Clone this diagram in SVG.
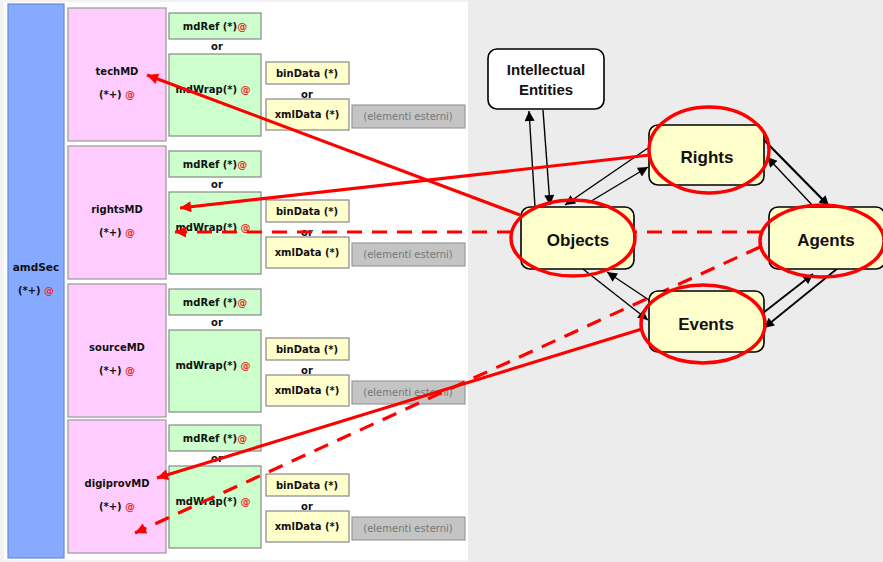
<svg xmlns="http://www.w3.org/2000/svg" width="883" height="562" viewBox="0 0 883 562">
<defs>
<style>
.t{font-family:"DejaVu Sans",Verdana,sans-serif;font-size:10px;font-weight:bold;fill:#111;text-anchor:middle}
.ext{font-family:"DejaVu Sans",Verdana,sans-serif;font-size:10px;fill:#777;text-anchor:middle}
.at{fill:#e8302a}
.pink{fill:#ffccff;stroke:#999;stroke-width:1.2}
.green{fill:#ccffcc;stroke:#888;stroke-width:1.2}
.yel{fill:#ffffcc;stroke:#888;stroke-width:1.2}
.gray{fill:#c4c4c4;stroke:#999;stroke-width:1.2}
.nb{fill:#ffffcc;stroke:#000;stroke-width:1.6}
.nl{font-family:"Liberation Sans",Arial,sans-serif;font-size:17px;font-weight:bold;fill:#111;text-anchor:middle}
.ring{fill:none;stroke:#ff0000;stroke-width:3.5}
.bk{fill:none;stroke:#000;stroke-width:1.4}
.rd{fill:none;stroke:#ff0000;stroke-width:3.2}
.dash{stroke-dasharray:15 10}
</style>
<marker id="ab" viewBox="0 0 10 10" refX="10" refY="5" markerWidth="11" markerHeight="10" markerUnits="userSpaceOnUse" orient="auto"><path d="M0,0 L10,5 L0,10 z" fill="#000"/></marker>
<marker id="ar" viewBox="0 0 10 10" refX="10" refY="5" markerWidth="13" markerHeight="11" markerUnits="userSpaceOnUse" orient="auto"><path d="M0,0 L10,5 L0,10 z" fill="#ff0000"/></marker>
</defs>

<rect x="0" y="0" width="468" height="562" fill="#f2f2f2"/>
<rect x="4" y="2" width="464" height="558" fill="#ffffff"/>
<rect x="468" y="0" width="415" height="562" fill="#ececec"/>

<g id="amdSec">
<rect x="8" y="4" width="56" height="554" fill="#86aaff" stroke="#6a8ad0" stroke-width="1.2"/>
<text class="t" x="36" y="271" style="font-size:10.5px">amdSec</text>
<text class="t" x="36" y="294">(*+) <tspan class="at">@</tspan></text>
</g>

<g id="techMD" transform="translate(0,8)">
<rect class="pink" x="68" y="0" width="98" height="133"/>
<text class="t" x="117" y="67">techMD</text>
<text class="t" x="117" y="90">(*+) <tspan class="at">@</tspan></text>
<rect class="green" x="169" y="5" width="92" height="26"/>
<text class="t" x="215" y="22">mdRef (*)<tspan class="at">@</tspan></text>
<text class="t" x="217" y="42">or</text>
<rect class="green" x="169" y="46" width="92" height="82"/>
<text class="t" x="213" y="85">mdWrap(*) <tspan class="at">@</tspan></text>
<rect class="yel" x="266" y="54" width="83" height="22"/>
<text class="t" x="307" y="69">binData (*)</text>
<text class="t" x="307" y="90">or</text>
<rect class="yel" x="266" y="91" width="83" height="31"/>
<text class="t" x="307" y="110">xmlData (*)</text>
<rect class="gray" x="352" y="97" width="113" height="23"/>
<text class="ext" x="408" y="112">(elementi esterni)</text>
</g>

<g id="rightsMD" transform="translate(0,146)">
<rect class="pink" x="68" y="0" width="98" height="133"/>
<text class="t" x="117" y="67">rightsMD</text>
<text class="t" x="117" y="90">(*+) <tspan class="at">@</tspan></text>
<rect class="green" x="169" y="5" width="92" height="26"/>
<text class="t" x="215" y="22">mdRef (*)<tspan class="at">@</tspan></text>
<text class="t" x="217" y="42">or</text>
<rect class="green" x="169" y="46" width="92" height="82"/>
<text class="t" x="213" y="85">mdWrap(*) <tspan class="at">@</tspan></text>
<rect class="yel" x="266" y="54" width="83" height="22"/>
<text class="t" x="307" y="69">binData (*)</text>
<text class="t" x="307" y="90">or</text>
<rect class="yel" x="266" y="91" width="83" height="31"/>
<text class="t" x="307" y="110">xmlData (*)</text>
<rect class="gray" x="352" y="97" width="113" height="23"/>
<text class="ext" x="408" y="112">(elementi esterni)</text>
</g>

<g id="sourceMD" transform="translate(0,284)">
<rect class="pink" x="68" y="0" width="98" height="133"/>
<text class="t" x="117" y="67">sourceMD</text>
<text class="t" x="117" y="90">(*+) <tspan class="at">@</tspan></text>
<rect class="green" x="169" y="5" width="92" height="26"/>
<text class="t" x="215" y="22">mdRef (*)<tspan class="at">@</tspan></text>
<text class="t" x="217" y="42">or</text>
<rect class="green" x="169" y="46" width="92" height="82"/>
<text class="t" x="213" y="85">mdWrap(*) <tspan class="at">@</tspan></text>
<rect class="yel" x="266" y="54" width="83" height="22"/>
<text class="t" x="307" y="69">binData (*)</text>
<text class="t" x="307" y="90">or</text>
<rect class="yel" x="266" y="91" width="83" height="31"/>
<text class="t" x="307" y="110">xmlData (*)</text>
<rect class="gray" x="352" y="97" width="113" height="23"/>
<text class="ext" x="408" y="112">(elementi esterni)</text>
</g>

<g id="digiprovMD" transform="translate(0,420)">
<rect class="pink" x="68" y="0" width="98" height="133"/>
<text class="t" x="117" y="67">digiprovMD</text>
<text class="t" x="117" y="90">(*+) <tspan class="at">@</tspan></text>
<rect class="green" x="169" y="5" width="92" height="26"/>
<text class="t" x="215" y="22">mdRef (*)<tspan class="at">@</tspan></text>
<text class="t" x="217" y="42">or</text>
<rect class="green" x="169" y="46" width="92" height="82"/>
<text class="t" x="213" y="85">mdWrap(*) <tspan class="at">@</tspan></text>
<rect class="yel" x="266" y="54" width="83" height="22"/>
<text class="t" x="307" y="69">binData (*)</text>
<text class="t" x="307" y="90">or</text>
<rect class="yel" x="266" y="91" width="83" height="31"/>
<text class="t" x="307" y="110">xmlData (*)</text>
<rect class="gray" x="352" y="97" width="113" height="23"/>
<text class="ext" x="408" y="112">(elementi esterni)</text>
</g>

<g id="connectors">
<path class="bk" d="M535,207 L529,111" marker-end="url(#ab)"/>
<path class="bk" d="M543,110 L550,205" marker-end="url(#ab)"/>
<path class="bk" d="M648,148 L565,205" marker-end="url(#ab)"/>
<path class="bk" d="M588,203 L648,167" marker-end="url(#ab)"/>
<path class="bk" d="M763,139 L829,206" style="stroke-width:2.2" marker-end="url(#ab)"/>
<path class="bk" d="M814,207 L767,157" marker-end="url(#ab)"/>
<path class="bk" d="M838,268 L764,328" style="stroke-width:1.8" marker-end="url(#ab)"/>
<path class="bk" d="M763,313 L813,274" style="stroke-width:1.8" marker-end="url(#ab)"/>
<path class="bk" d="M583,269 L648,320" marker-end="url(#ab)"/>
<path class="bk" d="M649,300 L607,272" marker-end="url(#ab)"/>

<path class="rd" d="M520,215 L147,75" marker-end="url(#ar)"/>
<path class="rd" d="M650,155 L180,208" marker-end="url(#ar)"/>
<path class="rd dash" d="M762,232 L175,232" marker-end="url(#ar)"/>
<path class="rd" d="M642,329 L157,478" marker-end="url(#ar)"/>
<path class="rd dash" d="M760,247 L135,533" marker-end="url(#ar)"/>
</g>

<g id="intellectual">
<rect x="488" y="49" width="116" height="60" rx="9" fill="#ffffff" stroke="#000" stroke-width="1.6"/>
<text class="nl" x="546" y="75" style="font-size:15px">Intellectual</text>
<text class="nl" x="546" y="95" style="font-size:15px">Entities</text>
</g>

<g id="rights">
<rect class="nb" x="649" y="125" width="115" height="60" rx="9"/>
<text class="nl" x="707" y="163">Rights</text>
<ellipse class="ring" cx="709" cy="150" rx="60" ry="43"/>
</g>

<g id="objects">
<rect class="nb" x="521" y="207" width="113" height="62" rx="9"/>
<text class="nl" x="578" y="246">Objects</text>
<ellipse class="ring" cx="573" cy="238" rx="62" ry="38"/>
</g>

<g id="agents">
<rect class="nb" x="769" y="207" width="116" height="62" rx="9"/>
<text class="nl" x="826" y="246">Agents</text>
<ellipse class="ring" cx="822" cy="241" rx="62" ry="36"/>
</g>

<g id="events">
<rect class="nb" x="649" y="291" width="115" height="61" rx="9"/>
<text class="nl" x="706" y="330">Events</text>
<ellipse class="ring" cx="703" cy="324" rx="62" ry="39"/>
</g>
</svg>
